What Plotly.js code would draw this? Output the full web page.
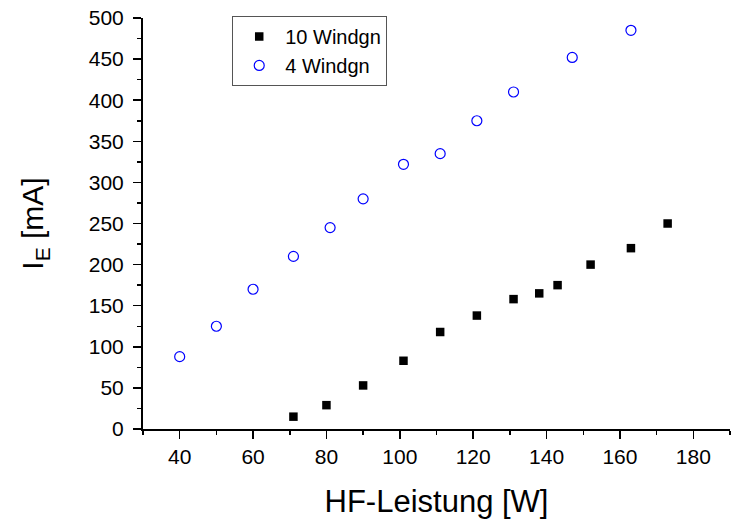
<!DOCTYPE html>
<html>
<head>
<meta charset="utf-8">
<script src="https://cdn.plot.ly/plotly-3.0.1.min.js"></script>
<style>html,body{margin:0;padding:0;background:#fff;}#chart{width:738px;height:525px;}</style>
</head>
<body>
<div id="chart"></div>
<script>
// Data
const seriesNames = ["10 Windgn", "4 Windgn"];
const x10 = [71, 80, 90, 101, 111, 121, 131, 138, 143, 152, 163, 173];
const y10 = [15, 29, 53, 83, 118, 138, 158, 165, 175, 200, 220, 250];
const x4 = [40, 50, 60, 71, 81, 90, 101, 111, 121, 131, 147, 163];
const y4 = [88, 125, 170, 210, 245, 280, 322, 335, 375, 410, 452, 485];
const xTitle = "HF-Leistung [W]";
const yTitle = "I<sub>E</sub> [mA]";

const FONT = "Liberation Sans, Arial, sans-serif";

const traces = [
  {
    x: x10, y: y10, name: seriesNames[0], type: "scatter", mode: "markers",
    marker: {symbol: "square", size: 8.5, color: "#000000"}
  },
  {
    x: x4, y: y4, name: seriesNames[1], type: "scatter", mode: "markers",
    marker: {symbol: "circle-open", size: 10, color: "#0000ff", line: {width: 1.2, color: "#0000ff"}}
  }
];

const layout = {
  width: 738, height: 525,
  margin: {l: 143, r: 8, t: 18, b: 96, pad: 0},
  paper_bgcolor: "#ffffff", plot_bgcolor: "#ffffff",
  font: {family: FONT, color: "#000000", size: 21},
  showlegend: true,
  legend: {
    x: 0.152, y: 1.005, xanchor: "left", yanchor: "top",
    bgcolor: "#ffffff", bordercolor: "#555555", borderwidth: 1,
    font: {family: FONT, size: 20, color: "#000000"},
    itemwidth: 42
  },
  xaxis: {
    range: [30, 190], autorange: false,
    tickmode: "linear", tick0: 40, dtick: 20,
    ticks: "outside", ticklen: 8, tickwidth: 1.5, tickcolor: "#000",
    minor: {tickmode: "linear", tick0: 30, dtick: 10, ticks: "outside", ticklen: 4, tickwidth: 1.5, tickcolor: "#000", showgrid: false},
    showline: true, linewidth: 2, linecolor: "#000",
    showgrid: false, zeroline: false,
    tickfont: {family: FONT, size: 21, color: "#000"},
    title: {text: xTitle, font: {family: FONT, size: 31, color: "#000"}, standoff: 23}
  },
  yaxis: {
    range: [0, 500], autorange: false,
    tickmode: "linear", tick0: 0, dtick: 50,
    ticks: "outside", ticklen: 8, tickwidth: 1.5, tickcolor: "#000",
    minor: {tickmode: "linear", tick0: 25, dtick: 50, ticks: "outside", ticklen: 4, tickwidth: 1.5, tickcolor: "#000", showgrid: false},
    showline: true, linewidth: 2, linecolor: "#000",
    showgrid: false, zeroline: false,
    ticklabelstandoff: 5,
    tickfont: {family: FONT, size: 21, color: "#000"},
    title: {text: yTitle, font: {family: FONT, size: 30, color: "#000"}, standoff: 36}
  }
};

Plotly.newPlot("chart", traces, layout, {displayModeBar: false, staticPlot: true});
</script>
</body>
</html>
